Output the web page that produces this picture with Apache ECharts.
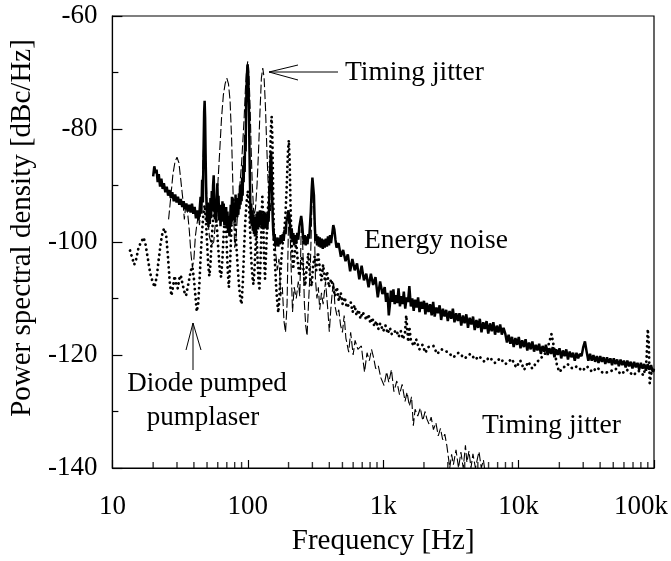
<!DOCTYPE html>
<html>
<head>
<meta charset="utf-8">
<script src="https://cdn.jsdelivr.net/npm/echarts@6/dist/echarts.min.js"></script>
<style>
html,body{margin:0;padding:0;background:#fff;}
#chart{width:671px;height:561px;}
</style>
</head>
<body>
<div id="chart"></div>
<script>
// ---- Data (frequency Hz, PSD dBc/Hz) ----
var energyNoise = [
[20,-88.4],[20.4,-86.6],[20.8,-87.8],[21.2,-87.2],[21.6,-89.4],[22,-88],[22.5,-90.2],[23,-88.8],[23.5,-90.6],[24,-89.6],[24.6,-91.2],[25.2,-90.2],[25.8,-91.8],[26.4,-90.8],[27,-92.2],[27.7,-91.2],[28.4,-92.8],[29.1,-91.6],[29.8,-93],[30.5,-92],[31.2,-93.4],[32,-92.4],[32.8,-93.8],[33.6,-92.8],[34.4,-94.2],[35.2,-93.2],[36,-94.6],[36.9,-93.4],[37.8,-94.8],[38.7,-93.2],[39.6,-95],[40.5,-93.8],[41.4,-95.8],[42.3,-94.4],[43.2,-96.2],[44,-94.6],[44.8,-92],[45.4,-95],[46,-89],[46.6,-93],[47.1,-84],[47.6,-77],[48,-75],[48.4,-78],[48.9,-86],[49.4,-92],[50,-96.5],[50.6,-93],[51.2,-97.4],[51.8,-94],[52.4,-96.8],[53,-92.2],[53.6,-95.8],[54.2,-91],[54.8,-94.6],[55.4,-90],[56,-88.2],[56.6,-92.8],[57.2,-96],[57.8,-93.2],[58.4,-96.6],[59,-92.4],[59.6,-89.6],[60.2,-93.8],[60.8,-91.8],[61.5,-96.2],[62.2,-93.4],[62.9,-97.2],[63.6,-94],[64.3,-96.4],[65,-92.8],[65.7,-95.6],[66.4,-93.2],[67.1,-97],[67.8,-94.4],[68.5,-96.8],[69.2,-93.8],[70,-97.6],[70.8,-94.6],[71.6,-98.4],[72.4,-95.4],[73.2,-99],[74,-96.2],[74.8,-93.4],[75.6,-96.8],[76.4,-92],[77.2,-95.4],[78,-93],[78.8,-96.2],[79.6,-93.4],[80.4,-96.6],[81.2,-91.6],[82,-94.8],[82.8,-92.2],[83.6,-95.6],[84.4,-92.6],[85.2,-95.2],[86,-91.4],[86.8,-94.2],[87.6,-90],[88.4,-93.4],[89.2,-89.8],[90,-92.8],[90.8,-88.6],[91.6,-91.8],[92.4,-86.4],[93.2,-89.4],[94,-84.8],[94.8,-87.6],[95.6,-81],[96.4,-84],[97.2,-76],[98,-72.6],[98.8,-70],[99.6,-68.6],[100.4,-69.4],[101.2,-72.4],[102,-77],[102.8,-83],[103.6,-88.6],[104.4,-93],[105.2,-96.4],[106,-93.2],[107,-97.2],[108,-94.4],[109,-98],[110,-95.2],[111,-98.6],[112,-95.6],[113,-99],[114,-96],[115,-98.4],[116,-95],[117,-97.6],[118,-94.6],[119,-97.8],[120,-95.2],[121.5,-97.4],[123,-94.4],[124.5,-97],[126,-94.8],[127.5,-97.6],[129,-95],[130.5,-97.8],[132,-94.6],[133.5,-97],[135,-94.8],[136.5,-97.6],[138,-95.4],[139.5,-97.8],[141,-95],[142.5,-96.4],[144,-92.4],[145.5,-89],[147,-85.6],[148.3,-84],[149.6,-86.2],[151,-91],[152.5,-95.4],[154,-98],[156,-99.8],[158,-98.6],[160,-100.8],[162,-99.4],[164,-100.6],[166,-99.2],[168,-100.8],[170,-99.4],[172,-100.4],[175,-98.8],[178,-100.2],[181,-98.6],[184,-99.8],[187,-97.8],[190,-98.6],[193,-96.4],[196,-95.6],[199,-94.4],[202,-95.2],[205,-97],[208,-99.4],[211,-97.6],[214,-100],[217,-98.4],[220,-100.6],[224,-98.8],[228,-100.2],[232,-98.4],[236,-99.6],[240,-97.4],[244,-96.4],[248,-95.4],[252,-96.8],[256,-99],[260,-100.4],[264,-98.8],[268,-100.6],[272,-99],[276,-100.4],[280,-98.6],[284,-99.4],[288,-97],[292,-94.6],[296,-91],[300,-88.6],[304,-88.4],[308,-91.8],[312,-96.6],[316,-99.8],[320,-98.6],[325,-100.6],[330,-99],[335,-100.8],[340,-99.2],[346,-101],[352,-99.4],[358,-101.2],[364,-99.6],[370,-101],[377,-99.4],[384,-100.8],[391,-99],[398,-100.6],[405,-98.8],[412,-100.2],[420,-98.6],[428,-97],[436,-97.8],[444,-99.6],[452,-101],
[468,-100.2],[487,-102.6],[506,-101.4],[527,-103.4],[548,-102.2],[570,-105.2],[592,-103],[616,-105],[641,-103.8],[666,-106.6],[693,-104.2],[721,-106.8],[750,-105.6],[780,-108],[811,-105.6],[843,-107.6],[877,-106.2],[912,-109.8],[949,-107],[987,-109.2],[1026,-108],[1050,-110.6],[1075,-109],[1100,-113],[1120,-111.2],[1140,-108.6],[1165,-110.6],[1190,-108.4],[1215,-111],[1240,-109.4],[1270,-110.8],[1298,-108.2],[1330,-111.4],[1360,-109.6],[1390,-111],[1420,-108.8],[1455,-111.8],[1490,-109.8],[1525,-110.6],[1560,-107.8],[1600,-111.4],[1640,-110],[1680,-112.2],[1720,-110.2],[1765,-111.6],[1810,-109.8],[1855,-112.4],[1900,-110.6],[1950,-111.8],[2000,-110.4],[2050,-112.8],[2100,-110.8],[2160,-112.4],[2220,-111],[2280,-113],[2340,-110.6],[2400,-113.2],[2470,-111.6],[2540,-112.6],[2610,-111.2],[2680,-113.8],[2760,-111.8],[2840,-113.2],[2920,-112],[3000,-114],[3090,-112.2],[3180,-113.6],[3270,-111.8],[3360,-114.2],[3460,-112.6],[3560,-114],[3660,-112.6],[3770,-114.8],[3880,-113],[3990,-114.4],[4110,-112.8],[4230,-115.2],[4350,-113.4],[4480,-114.6],[4610,-113.2],[4740,-115.6],[4880,-113.8],[5020,-115.2],[5170,-113.6],[5320,-116],[5480,-114.2],[5640,-115.4],[5800,-114],[5970,-116.2],[6150,-114.4],[6330,-115.8],[6510,-114.2],[6700,-116.4],[6900,-114.8],[7100,-116],[7310,-114.6],[7520,-116.4],[7740,-115.2],[7970,-116.2],[8200,-117.8],[8440,-116.4],[8690,-118],[8940,-116.8],[9200,-118.6],[9470,-117],[9750,-118.2],[10030,-116.8],[10330,-118.8],[10630,-117.4],[10940,-118.6],[11260,-117.2],[11590,-119.2],[11930,-117.8],[12280,-119],[12640,-117.6],[13010,-119.4],[13390,-118.2],[13780,-119.2],[14180,-118],[14600,-119.8],[15030,-118.4],[15470,-119.4],[15920,-118.2],[16390,-120],[16870,-118.8],[17360,-119.8],[17870,-118.6],[18390,-120.4],[18930,-119],[19480,-120],[20050,-118.8],[20640,-120.6],[21240,-119.2],[21860,-120.2],[22500,-119],[23160,-120.8],[23840,-119.4],[24540,-120.4],[25260,-119.6],[26000,-121],[26760,-119.6],[27540,-120.6],[28350,-119.8],[29180,-120.2],[30030,-118.6],[30900,-117.6],[31800,-119.4],[32740,-121],[33700,-119.8],[34680,-121],[35700,-120],[36740,-121.2],[37820,-120.2],[38920,-121.4],[40060,-120.2],[41230,-121.2],[42440,-120.4],[43680,-121.6],[44960,-120.4],[46270,-121.4],[47620,-120.6],[49020,-121.8],[50450,-120.6],[51930,-121.6],[53450,-120.8],[55010,-122],[56620,-120.8],[58280,-121.8],[59980,-121],[61740,-122.2],[63540,-121],[65400,-122],[67310,-121.2],[69280,-122.4],[71310,-121.2],[73390,-122.2],[75540,-121.4],[77750,-122.6],[80020,-121.4],[82360,-122.4],[84770,-121.6],[87250,-122.8],[89800,-121.6],[92430,-122.6],[95130,-121.8],[97910,-123],[100000,-122.4]
];

var timingJitter = [
[26,-96],[27,-92],[28,-88],[29,-85.8],[30,-85],[31,-86],[32,-89],[33,-92],[34,-96],[35,-93],[36,-95],[37,-98],[38,-102],[39,-104.5],[40,-103],[41,-99],[42,-97],[43,-95.5],[44,-97],[45,-94],[46,-90],[47,-84],[48,-80],[49,-86],[50,-94],[52,-99],[54,-100.5],[56,-100],[58,-96],[60,-90],[62,-84],[64,-78],[66,-74],[68,-72],[70,-71],[72,-72],[74,-75],[76,-82],[78,-92],[80,-101],[82,-99],[84,-95],[86,-92],[88,-89],[90,-86],[92,-82],[94,-78],[96,-73],[98,-69.5],[100,-68],[102,-70.5],[104,-76],[106,-84],[108,-90],[111,-95.5],[114,-94],[117,-90],[120,-84],[123,-77],[126,-71],[129,-69.2],[132,-71],[135,-76],[138,-83],[141,-89],[144,-93],[147,-94.5],[150,-91],[153,-94],[157,-98],[161,-102],[165,-105],[170,-103],[175,-109.6],[180,-108],[185,-114],[190,-116],[195,-111],[200,-96],[204,-95],[208,-103],[214,-112.4],[220,-108],[228,-110],[236,-107],[242,-109.6],[248,-98],[252,-97],[257,-104],[262,-111],[268,-114.9],[274,-116.6],[282,-110],[290,-104],[298,-93],[303,-89.5],[308,-93],[316,-106.6],[324,-110],[332,-108],[340,-112],[350,-109],[360,-111],[375,-107],[390,-112],[400,-115.9],[410,-112],[420,-109],[430,-107],[440,-111.3],[455,-113],[470,-112],[484,-114.7],[500,-116],[515,-113],[530,-117],[556,-119.5],[575,-116],[600,-120],[620,-117.4],[650,-119],[690,-118.4],[710,-121],[728,-123],[760,-119.6],[790,-121],[820,-119],[850,-120.5],[880,-122.4],[920,-121.9],[960,-124],[1015,-125.4],[1060,-123],[1100,-124.8],[1150,-122.6],[1200,-126.5],[1260,-124.6],[1320,-127],[1380,-125.2],[1450,-128.2],[1500,-126.6],[1560,-129],[1620,-127.4],[1670,-132.5],[1720,-129.6],[1800,-130.8],[1880,-129.4],[1960,-131.6],[2040,-130],[2100,-131.3],[2180,-132.2],[2260,-131],[2350,-133.2],[2450,-132],[2550,-134.3],[2650,-133],[2750,-135],[2850,-134],[2950,-136],[3050,-138.6],[3100,-140],[3200,-137.6],[3300,-139.4],[3450,-136.8],[3600,-140],[3750,-137.2],[3900,-140],[4050,-136],[4150,-139],[4300,-137],[4450,-140],[4600,-137.5],[4800,-140],[5000,-138],[5100,-137.1],[5300,-140],[5500,-138.6],[5600,-140]
];

var pumpLaser = [
[13.5,-101.5],[14,-102.8],[14.5,-104],[15,-103],[15.6,-101],[16.3,-100],[17,-99.2],[17.6,-100.5],[18.3,-103],[19,-105.5],[19.8,-107],[20.5,-108],[21.3,-106],[22,-103],[22.8,-100],[23.6,-98],[24.3,-97.6],[25,-99],[25.8,-103],[26.5,-107],[27.3,-109.5],[28,-108],[28.8,-106],[29.6,-107.5],[30.4,-108.2],[31.2,-106.5],[32,-105.9],[33,-107.5],[34,-108.8],[35,-109.5],[36,-108],[37,-106.5],[38,-105],[39,-104.4],[40,-106.5],[41,-109.5],[42,-112.3],[43,-111],[44,-107],[45,-102],[46,-98],[47,-95],[48,-93.5],[49,-96],[50,-100],[51,-104],[52,-106],[53,-104],[54,-100],[55,-97],[56,-95],[57.5,-94],[59,-97],[60.5,-101],[62,-105],[63.5,-106.2],[65,-103],[66.5,-98],[68,-95.5],[69.5,-99],[71,-105],[72.5,-108],[74,-104],[75.5,-98],[77,-94],[78.5,-92.5],[80,-95],[82,-100],[84,-104],[86,-107.5],[88,-110],[90,-111],[92,-107],[94,-101],[96,-96],[98,-93],[100,-91],[102,-93],[104,-98],[106,-103],[108,-106],[110,-107.5],[112,-105],[114,-101],[116,-98],[118,-103],[120,-107],[122,-108.2],[124,-104],[126,-98],[128,-92],[130,-96],[132,-103],[134,-106.5],[137,-101],[140,-95],[143,-92],[146,-86],[148,-80],[150,-77.8],[152,-82],[154,-92],[156,-100],[159,-104],[162,-108],[165,-110.6],[168,-112.5],[171,-110],[174,-106],[177,-103],[180,-101],[183,-99],[186,-98],[190,-95],[194,-90],[198,-84],[201,-82],[204,-86],[207,-94],[211,-100.5],[216,-104.8],[222,-102],[228,-100],[234,-103.5],[240,-106],[246,-104],[252,-102.5],[258,-105],[265,-107.8],[272,-104.6],[280,-102],[288,-106],[296,-107.8],[304,-104],[312,-102.5],[320,-105],[330,-101.8],[340,-104.6],[350,-106.8],[360,-104],[372,-107],[385,-105.2],[398,-108],[412,-106.6],[426,-107.8],[440,-109.6],[455,-108],[470,-110.4],[486,-109],[502,-111],[520,-109.8],[538,-111.6],[556,-111.9],[575,-110.6],[595,-112.4],[615,-111.2],[636,-113],[658,-112],[680,-113.6],[704,-112.4],[728,-113],[752,-113.8],[778,-112.8],[805,-114.4],[832,-113.4],[860,-114.9],[890,-114],[920,-115.4],[950,-114.4],[968,-114.9],[1000,-115.8],[1040,-114.8],[1080,-116.2],[1120,-115.2],[1160,-116.4],[1200,-116.7],[1250,-115.6],[1300,-116.8],[1350,-115.8],[1400,-117.2],[1450,-116],[1480,-113],[1500,-114.9],[1530,-117.7],[1560,-115],[1600,-117.4],[1680,-118.4],[1750,-117.2],[1850,-119],[1950,-118.2],[2050,-119.6],[2150,-118.6],[2350,-118.4],[2500,-119.8],[2700,-119],[3000,-119.5],[3300,-120.4],[3600,-119.6],[4000,-120.6],[4400,-119.8],[4800,-120.8],[5100,-120.2],[5600,-121.2],[6100,-120.4],[6700,-121.4],[7300,-120.6],[8000,-121.6],[8900,-120.7],[9600,-122.2],[10300,-121],[11000,-122.6],[11800,-121.2],[12600,-122.4],[13500,-121.4],[14500,-120.6],[15500,-120],[16500,-118.5],[17500,-116.3],[18300,-118.8],[19200,-121.8],[20000,-123],[21500,-122.2],[23000,-121.6],[25000,-122.4],[27000,-122],[29500,-122.8],[32000,-122],[35000,-123],[38000,-122.2],[42000,-123.2],[47000,-123],[52000,-122.4],[57000,-123.4],[63000,-122.6],[70000,-123.6],[77000,-122.8],[84000,-123.6],[88000,-121],[90000,-115.4],[91500,-118],[93000,-125],[95000,-123.4],[98000,-122.6],[100000,-123]
];

// axis ticks / labels
var xTickValues = [10, 100, 1000, 10000, 100000];
var xTickLabels = ['10', '100', '1k', '10k', '100k'];
var xMinorTicks = [20,30,40,50,60,70,80,90,200,300,400,500,600,700,800,900,2000,3000,4000,5000,6000,7000,8000,9000,20000,30000,40000,50000,60000,70000,80000,90000];
var yTicks = [-140, -120, -100, -80, -60];

var FONT = '"Liberation Serif", "Times New Roman", serif';

var chart = echarts.init(document.getElementById('chart'), null, {renderer: 'canvas'});

var labelMap = {};
xTickValues.forEach(function (v, i) { labelMap[v] = xTickLabels[i]; });

var option = {
  backgroundColor: '#fff',
  animation: false,
  grid: {
    left: 106, right: 13, top: 16, bottom: 91,
    show: true, borderColor: '#000', borderWidth: 1.2, backgroundColor: 'transparent'
  },
  xAxis: {
    type: 'log', logBase: 10, min: 10, max: 100000,
    name: 'Frequency [Hz]', nameLocation: 'middle', nameGap: 59,
    nameTextStyle: {fontFamily: FONT, fontSize: 29, color: '#000'},
    axisLine: {show: true, lineStyle: {color: '#000', width: 1.2}},
    axisTick: {show: true, inside: true, length: 8, lineStyle: {color: '#000', width: 1.2}},
    minorTick: {show: false},
    splitLine: {show: false},
    axisLabel: {
      fontFamily: FONT, fontSize: 27, color: '#000', margin: 25,
      formatter: function (v) {
        var s = labelMap[Math.round(v)] || '';
        if (Math.round(v) === 100000) return '{last|' + s + '}';
        return s;
      },
      rich: {last: {fontFamily: FONT, fontSize: 27, color: '#000', padding: [0, 26, 0, 0]}}
    }
  },
  yAxis: {
    type: 'value', min: -140, max: -60, interval: 20,
    name: 'Power spectral density [dBc/Hz]', nameLocation: 'middle', nameGap: 72, nameRotate: 90,
    nameTextStyle: {fontFamily: FONT, fontSize: 29, color: '#000', padding: [0, 0, 0, 28]},
    axisLine: {show: true, lineStyle: {color: '#000', width: 1.2}},
    axisTick: {show: true, inside: true, length: 10, lineStyle: {color: '#000', width: 1.2}},
    minorTick: {show: true, splitNumber: 2, length: 6, lineStyle: {color: '#000', width: 1.2}},
    splitLine: {show: false},
    axisLabel: {fontFamily: FONT, fontSize: 27, color: '#000', margin: 15,
      formatter: function (v) { return String(v); }}
  },
  series: [
    {
      name: 'Diode pumped pumplaser', type: 'line', data: pumpLaser, showSymbol: false, symbol: 'none',
      lineStyle: {color: '#000', width: 2.8, type: [0.1, 5], cap: 'round'}, z: 2
    },
    {
      name: 'Timing jitter', type: 'line', data: timingJitter, showSymbol: false, symbol: 'none',
      lineStyle: {color: '#000', width: 1.1, type: [9, 3]}, z: 3
    },
    {
      name: 'Energy noise', type: 'line', data: energyNoise, showSymbol: false, symbol: 'none',
      lineStyle: {color: '#000', width: 2.5}, z: 4
    },
    {
      name: 'minorTicks', type: 'scatter', silent: true, z: 5, clip: false,
      data: xMinorTicks.map(function (v) { return [v, -140]; }),
      symbol: 'rect', symbolSize: [1.4, 6], symbolOffset: [0, -3],
      itemStyle: {color: '#000'}
    }
  ],
  graphic: [
    {type: 'line', shape: {x1: 269, y1: 72, x2: 338, y2: 72}, style: {stroke: '#000', lineWidth: 1}},
    {type: 'polyline', shape: {points: [[298, 65], [269, 72], [298, 80]]}, style: {stroke: '#000', lineWidth: 1, fill: null}},
    {type: 'text', style: {text: 'Timing jitter', x: 345, y: 73, font: '27.5px ' + FONT, fill: '#000', textAlign: 'left', textVerticalAlign: 'middle'}},
    {type: 'text', style: {text: 'Energy noise', x: 364, y: 241, font: '27.5px ' + FONT, fill: '#000', textAlign: 'left', textVerticalAlign: 'middle'}},
    {type: 'line', shape: {x1: 193, y1: 323, x2: 193, y2: 370}, style: {stroke: '#000', lineWidth: 1}},
    {type: 'polyline', shape: {points: [[186, 350], [193, 323], [201, 350]]}, style: {stroke: '#000', lineWidth: 1, fill: null}},
    {type: 'text', style: {text: 'Diode pumped', x: 207, y: 384, font: '27px ' + FONT, fill: '#000', textAlign: 'center', textVerticalAlign: 'middle'}},
    {type: 'text', style: {text: 'pumplaser', x: 203, y: 418, font: '27px ' + FONT, fill: '#000', textAlign: 'center', textVerticalAlign: 'middle'}},
    {type: 'text', style: {text: 'Timing jitter', x: 482, y: 426, font: '27.5px ' + FONT, fill: '#000', textAlign: 'left', textVerticalAlign: 'middle'}}
  ]
};
chart.setOption(option);
</script>
</body>
</html>
